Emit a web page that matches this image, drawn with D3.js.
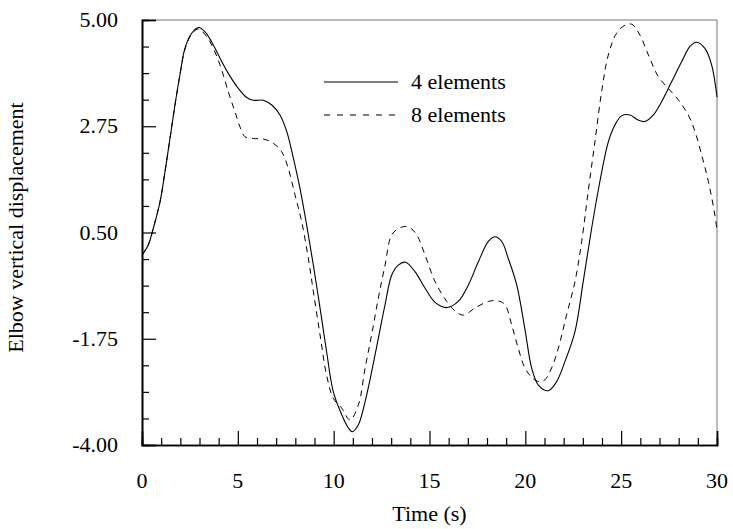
<!DOCTYPE html>
<html>
<head>
<meta charset="utf-8">
<script src="https://cdn.jsdelivr.net/npm/d3@7"></script>
<style>
  body { margin: 0; background: #fff; }
</style>
</head>
<body>
<svg id="chart" width="733" height="529"></svg>
<script>
// 4 elements (solid)
const time4 = [0, 0.33, 0.59, 0.94, 1.2, 1.46, 1.72, 1.98, 2.24, 2.59, 2.94, 3.29, 3.63, 4.07, 4.5, 5.03, 5.46, 5.81, 6.33, 6.77, 7.2, 7.55, 7.9, 8.24, 8.59, 8.94, 9.29, 9.63, 9.98, 10.42, 10.77, 10.97, 11.29, 11.64, 11.98, 12.33, 12.68, 13.03, 13.37, 13.76, 14.24, 14.77, 15.29, 15.9, 16.5, 17.03, 17.55, 18.07, 18.42, 18.77, 19.11, 19.55, 19.98, 20.33, 20.68, 21.2, 21.63, 22.07, 22.59, 23.02, 23.46, 23.89, 24.33, 24.68, 25.02, 25.46, 25.89, 26.24, 26.68, 27.11, 27.63, 28.16, 28.59, 28.94, 29.37, 29.72, 30]
const disp4 = [0.02, 0.24, 0.59, 1.15, 1.79, 2.49, 3.2, 3.84, 4.4, 4.72, 4.84, 4.75, 4.54, 4.19, 3.87, 3.55, 3.36, 3.3, 3.3, 3.2, 2.99, 2.64, 2.07, 1.44, 0.66, -0.19, -1.1, -2.02, -2.87, -3.36, -3.64, -3.72, -3.57, -3.08, -2.45, -1.74, -1.03, -0.4, -0.19, -0.13, -0.33, -0.68, -0.98, -1.09, -0.96, -0.61, -0.12, 0.31, 0.41, 0.31, -0.05, -0.61, -1.55, -2.37, -2.73, -2.85, -2.66, -2.23, -1.6, -0.54, 0.59, 1.58, 2.42, 2.78, 2.97, 2.99, 2.88, 2.85, 2.99, 3.27, 3.69, 4.12, 4.44, 4.53, 4.4, 4.05, 3.37]

// 8 elements (dashed)
const time8 = [0, 0.33, 0.59, 0.94, 1.2, 1.46, 1.72, 1.98, 2.24, 2.59, 2.94, 3.37, 3.72, 4.07, 4.5, 4.85, 5.11, 5.37, 5.81, 6.33, 6.85, 7.29, 7.63, 7.98, 8.33, 8.68, 8.94, 9.29, 9.63, 9.98, 10.42, 10.85, 11.29, 11.64, 11.98, 12.33, 12.68, 13.03, 13.46, 13.9, 14.33, 14.77, 15.29, 15.9, 16.33, 16.77, 17.37, 18.07, 18.59, 18.94, 19.29, 19.63, 19.98, 20.42, 20.76, 21.02, 21.37, 21.72, 22.15, 22.59, 22.94, 23.28, 23.63, 23.98, 24.33, 24.76, 25.2, 25.55, 25.98, 26.42, 26.94, 27.46, 27.98, 28.5, 28.85, 29.2, 29.55, 29.89, 30]
const disp8 = [0.02, 0.24, 0.59, 1.15, 1.79, 2.49, 3.2, 3.84, 4.38, 4.7, 4.81, 4.65, 4.4, 4.05, 3.48, 3.06, 2.74, 2.53, 2.49, 2.48, 2.39, 2.21, 1.86, 1.3, 0.73, -0.05, -0.75, -1.67, -2.52, -3.01, -3.22, -3.47, -3.15, -2.37, -1.67, -0.89, -0.19, 0.45, 0.6, 0.62, 0.45, 0.02, -0.54, -0.96, -1.16, -1.25, -1.1, -0.96, -0.95, -1.03, -1.46, -1.95, -2.37, -2.6, -2.66, -2.62, -2.37, -1.95, -1.25, -0.54, 0.31, 1.37, 2.42, 3.48, 4.26, 4.72, 4.89, 4.91, 4.68, 4.26, 3.8, 3.55, 3.31, 2.99, 2.64, 2.14, 1.58, 0.87, 0.55]

const yMajor = [5, 2.75, 0.5, -1.75, -4]
const xMajor = [0, 5, 10, 15, 20, 25, 30]
const legendLabels = ["4 elements", "8 elements"]

const width = 733, height = 529
const margin = { top: 20, right: 16, bottom: 84, left: 142 }
const serif = "'Liberation Serif', 'DejaVu Serif', 'Times New Roman', Times, serif"
const svg = d3.select("#chart")

const x = d3.scaleLinear().domain([0, 30]).range([margin.left, width - margin.right])
const y = d3.scaleLinear().domain([-4, 5]).range([height - margin.bottom, margin.top])

// frame: top and right in grey
svg.append("path")
  .attr("d", `M${x(0)},${y(5)}H${x(30)}V${y(-4)}`)
  .attr("fill", "none").attr("stroke", "#777").attr("stroke-width", 1)

// minor ticks
const xMinor = d3.range(0, 31, 1).filter(d => d % 5 !== 0)
const yMinor = d3.range(0, 17).map(i => -4 + i * 0.5625).filter((d, i) => i % 4 !== 0)

const xAxis = svg.append("g").attr("transform", `translate(0,${y(-4)})`)
xAxis.call(d3.axisTop(x).tickValues(xMajor).tickSize(14).tickFormat(""))
xAxis.append("g").call(d3.axisTop(x).tickValues(xMinor).tickSize(7).tickFormat(""))
xAxis.selectAll(".domain").attr("stroke-width", 1.6)
xAxis.selectAll(".tick line").attr("stroke-width", 1.2)

const yAxis = svg.append("g").attr("transform", `translate(${x(0)},0)`)
yAxis.call(d3.axisRight(y).tickValues(yMajor).tickSize(14).tickFormat(""))
yAxis.append("g").call(d3.axisRight(y).tickValues(yMinor).tickSize(7).tickFormat(""))
yAxis.selectAll(".domain").attr("stroke-width", 1.6)
yAxis.selectAll(".tick line").attr("stroke-width", 1.2)

const label = (sel) => sel.style("font-family", serif).style("font-size", "22px").attr("fill", "#000")

// tick labels
svg.append("g").selectAll("text").data(xMajor).join("text")
  .attr("x", d => x(d)).attr("y", 488)
  .attr("text-anchor", "middle")
  .call(label)
  .text(d => d)

svg.append("g").selectAll("text").data(yMajor).join("text")
  .attr("x", 118).attr("y", d => y(d) + 7)
  .attr("text-anchor", "end")
  .call(label)
  .text(d => d.toFixed(2))

// axis titles
svg.append("text")
  .attr("x", x(15)).attr("y", 521)
  .attr("text-anchor", "middle")
  .call(label)
  .text("Time (s)")

svg.append("text")
  .attr("transform", `translate(23,${(y(5) + y(-4)) / 2 - 5}) rotate(-90)`)
  .attr("text-anchor", "middle")
  .call(label)
  .text("Elbow vertical displacement")

// curves
const line = d3.line().x(d => x(d[0])).y(d => y(d[1])).curve(d3.curveCatmullRom.alpha(0.5))

svg.append("path")
  .datum(d3.zip(time8, disp8))
  .attr("d", line)
  .attr("fill", "none").attr("stroke", "#000").attr("stroke-width", 1)
  .attr("stroke-dasharray", "6,5")

svg.append("path")
  .datum(d3.zip(time4, disp4))
  .attr("d", line)
  .attr("fill", "none").attr("stroke", "#000").attr("stroke-width", 1.1)

// legend
const legend = svg.append("g")
const legendY = [82, 115]
legendLabels.forEach((name, i) => {
  legend.append("line")
    .attr("x1", 324).attr("x2", 398).attr("y1", legendY[i]).attr("y2", legendY[i])
    .attr("stroke", "#000").attr("stroke-width", 1.1)
    .attr("stroke-dasharray", i === 1 ? "6,7" : null)
  legend.append("text")
    .attr("x", 411).attr("y", legendY[i] + 7)
    .call(label)
    .text(name)
})
</script>
</body>
</html>
